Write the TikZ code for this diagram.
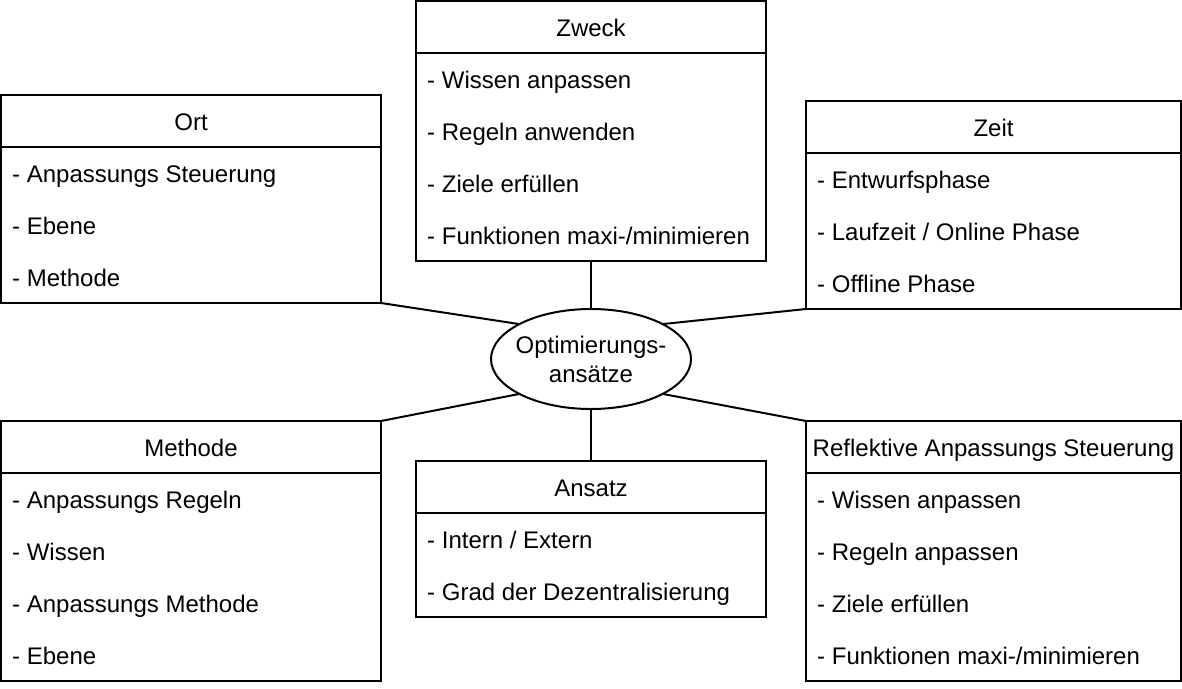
\documentclass[tikz,border=0pt]{standalone}
\usepackage{fontspec}
\setmainfont{Liberation Sans}
\usetikzlibrary{shapes.geometric}
\tikzset{
  ln/.style={line width=2pt, draw=black},
  boxs/.style={ln, rectangle, inner sep=0pt, outer sep=0pt, fill=white},
  ttl/.style={inner sep=0pt, anchor=base, font=\fontsize{24pt}{28pt}\selectfont},
  rowtxt/.style={inner sep=0pt, anchor=base west, font=\fontsize{24pt}{28pt}\selectfont},
  ell/.style={ln, ellipse, inner sep=0pt, outer sep=0pt, minimum width=200pt, minimum height=100pt}
}
\newcommand\ubox[6]{%
  \node[boxs, minimum width=#4pt, minimum height=#5pt, anchor=north west] (#1) at (#2,#3) {};
  \draw[ln] ([yshift=-52pt]#1.north west) -- ([yshift=-52pt]#1.north east);
  \node[ttl] (#1-t) at ([yshift=-35pt]#1.north) {#6};
}
\newcommand\urow[3]{%
  \node[rowtxt] (#1-r#2) at ([xshift=11pt,yshift={-87.5pt-52pt*(#2-1)}]#1.north west) {#3};
}
\begin{document}
\begin{tikzpicture}[x=1pt,y=-1pt]
\useasboundingbox (0,0) rectangle (1182,688);

\ubox{zweck}{416}{1}{350}{260}{Zweck}
\urow{zweck}{1}{- Wissen anpassen}
\urow{zweck}{2}{- Regeln anwenden}
\urow{zweck}{3}{- Ziele erfüllen}
\urow{zweck}{4}{- Funktionen maxi-/minimieren}

\ubox{ort}{1}{95}{380}{208}{Ort}
\urow{ort}{1}{- Anpassungs Steuerung}
\urow{ort}{2}{- Ebene}
\urow{ort}{3}{- Methode}

\ubox{zeit}{806}{101}{375}{208}{Zeit}
\urow{zeit}{1}{- Entwurfsphase}
\urow{zeit}{2}{- Laufzeit / Online Phase}
\urow{zeit}{3}{- Offline Phase}

\ubox{meth}{1}{421}{380}{260}{Methode}
\urow{meth}{1}{- Anpassungs Regeln}
\urow{meth}{2}{- Wissen}
\urow{meth}{3}{- Anpassungs Methode}
\urow{meth}{4}{- Ebene}

\ubox{ansatz}{416}{461}{350}{156}{Ansatz}
\urow{ansatz}{1}{- Intern / Extern}
\urow{ansatz}{2}{- Grad der Dezentralisierung}

\ubox{refl}{806}{421}{375}{260}{Reflektive Anpassungs Steuerung}
\urow{refl}{1}{- Wissen anpassen}
\urow{refl}{2}{- Regeln anpassen}
\urow{refl}{3}{- Ziele erfüllen}
\urow{refl}{4}{- Funktionen maxi-/minimieren}

\node[ell] (opt) at (591,359) {};
\node[ttl] (opt-t1) at (591,353) {Optimierungs-};
\node[ttl] (opt-t2) at (591,382) {ansätze};

\draw[ln] (ort.south east) -- (opt.154);
\draw[ln] (zeit.south west) -- (opt.26);
\draw[ln] (zweck.south) -- (opt.north);
\draw[ln] (meth.north east) -- (opt.206);
\draw[ln] (ansatz.north) -- (opt.south);
\draw[ln] (refl.north west) -- (opt.334);
\end{tikzpicture}
\end{document}
